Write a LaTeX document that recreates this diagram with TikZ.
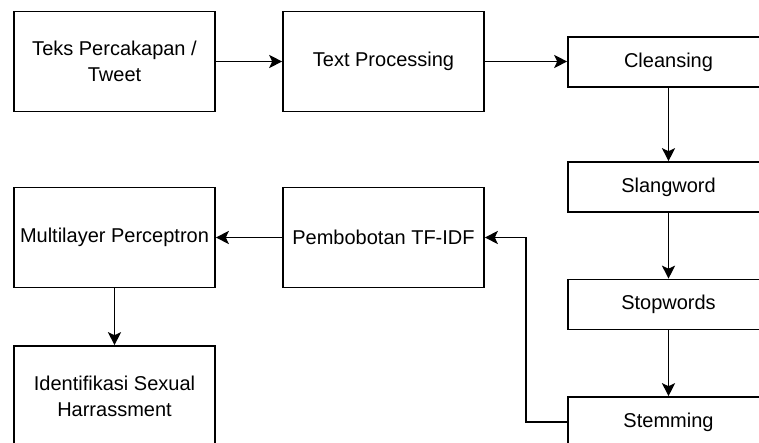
\documentclass[tikz,border=0pt]{standalone}
\usepackage{fontspec}
\setmainfont{Liberation Sans}
\usetikzlibrary{arrows.meta}
\begin{document}
\begin{tikzpicture}[x=1pt,y=-1pt,
  box/.style={draw, line width=1.6pt, minimum width=201pt, align=center,
    inner sep=0pt, font=\fontsize{20}{26}\selectfont, text=black},
  tall/.style={box, minimum height=100pt},
  flat/.style={box, minimum height=50pt},
  link/.style={line width=1.6pt, -{Stealth[length=13pt,width=13pt,inset=3pt]}}]
\useasboundingbox (0,0) rectangle (759,443);
\clip (0,0) rectangle (759,443);
\fill[white] (0,0) rectangle (759,443);
% top row
\node[tall] (teks) at (114.5,61.5) {Teks Percakapan /\\Tweet};
\node[tall] (proc) at (383.5,61.5) {Text Processing};
% preprocessing column
\node[flat] (clean) at (668.5,62) {Cleansing};
\node[flat] (slang) at (668.5,187) {Slangword};
\node[flat] (stop) at (668.5,304.5) {Stopwords};
\node[flat] (stem) at (668.5,422) {Stemming};
% lower row
\node[tall] (tfidf) at (383.5,237.5) {Pembobotan TF-IDF};
\node[tall] (mlp) at (114.5,237.5) {Multilayer Perceptron};
\node[tall] (ident) at (114.5,396) {Identifikasi Sexual\\Harrassment};
% connectors
\draw[link] (teks.east) -- (proc.west);
\draw[link] (proc.east) -- (proc.east -| clean.west);
\draw[link] (clean) -- (slang);
\draw[link] (slang) -- (stop);
\draw[link] (stop) -- (stem);
\coordinate (bend) at (526,0);
\draw[link] (stem.west) -| (bend |- tfidf.east) -- (tfidf.east);
\draw[link] (tfidf.west) -- (mlp.east);
\draw[link] (mlp) -- (ident);
\end{tikzpicture}
\end{document}
